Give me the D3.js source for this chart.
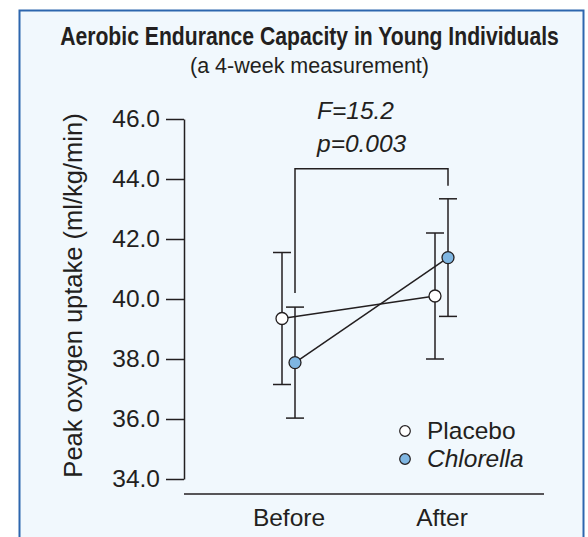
<!DOCTYPE html>
<html>
<head>
<meta charset="utf-8">
<script src="https://cdn.jsdelivr.net/npm/d3@7"></script>
<style>
  html, body { margin: 0; padding: 0; background: #fff; }
  svg { display: block; }
  text { font-family: "Liberation Sans", Arial, sans-serif; fill: #231f20; }
</style>
</head>
<body>
<svg width="588" height="537"></svg>
<script>
// chart values
const phases = ['Before', 'After'];
const groups = ['Placebo', 'Chlorella'];
const placeboMean = [39.35, 40.1];
const placeboErr = [2.2, 2.1];
const chlorellaMean = [37.88, 41.38];
const chlorellaErr = [1.85, 1.96];
const yTicks = [34, 36, 38, 40, 42, 44, 46];
const statLines = ['F=15.2', 'p=0.003'];

const ink = '#231f20';
const groupFill = { Placebo: '#ffffff', Chlorella: '#7fb6e2' };
const groupShift = { Placebo: -7, Chlorella: 6 };

const series = [
  { name: 'Placebo', mean: placeboMean, err: placeboErr },
  { name: 'Chlorella', mean: chlorellaMean, err: chlorellaErr }
];

const svg = d3.select('svg');

// panel
svg.append('rect')
  .attr('x', 19.5).attr('y', 10.5)
  .attr('width', 564).attr('height', 540)
  .attr('fill', '#f1f8fd')
  .attr('stroke', '#2d66ae')
  .attr('stroke-width', 2);

// title: no condensed font installed, so squeeze a bold one horizontally
const title = svg.append('text')
  .attr('text-anchor', 'middle')
  .style('font-weight', 'bold')
  .style('font-size', '26px')
  .text('Aerobic Endurance Capacity in Young Individuals');
const tw = title.node().getComputedTextLength();
title.attr('transform', `translate(309.5,45) scale(${Math.min(1, 499 / tw)},1)`);

svg.append('text')
  .attr('x', 309.5).attr('y', 73)
  .attr('text-anchor', 'middle')
  .style('font-size', '21.5px')
  .text('(a 4-week measurement)');

const y = d3.scaleLinear().domain([34, 46]).range([479, 119]);
const x = d3.scalePoint().domain(phases).range([289, 442]);

// y axis
const yAxis = d3.axisLeft(y)
  .tickValues(yTicks)
  .tickFormat(d3.format('.1f'))
  .tickSize(18)
  .tickSizeOuter(0)
  .tickPadding(6);

const gy = svg.append('g')
  .attr('transform', 'translate(184,0)')
  .call(yAxis);
gy.select('.domain').attr('stroke', ink).attr('stroke-width', 1.5);
gy.selectAll('.tick line').attr('stroke', ink).attr('stroke-width', 1.5);
gy.selectAll('.tick text')
  .attr('fill', ink)
  .style('font-family', '"Liberation Sans", Arial, sans-serif')
  .style('font-size', '24.5px');

svg.append('text')
  .attr('transform', 'translate(82,295.5) rotate(-90)')
  .attr('text-anchor', 'middle')
  .style('font-size', '25.5px')
  .text('Peak oxygen uptake (ml/kg/min)');

// x axis: a plain line with category labels
svg.append('line')
  .attr('x1', 184).attr('x2', 544)
  .attr('y1', 494).attr('y2', 494)
  .attr('stroke', ink).attr('stroke-width', 1.5);

svg.selectAll('.xlab')
  .data(phases)
  .enter()
  .append('text')
    .attr('class', 'xlab')
    .attr('x', (d) => x(d))
    .attr('y', 526)
    .attr('text-anchor', 'middle')
    .style('font-size', '24.5px')
    .text((d) => d);

// significance bracket between the Chlorella points
const chl = series[1];
const tops = phases.map((p, i) => y(chl.mean[i] + chl.err[i]));
const bracketTop = Math.min(...tops) - 30;
const bx = phases.map((p) => x(p) + groupShift.Chlorella);
svg.append('path')
  .attr('d', `M${bx[0]},${tops[0] - 14}V${bracketTop}H${bx[1]}V${tops[1] - 13}`)
  .attr('fill', 'none')
  .attr('stroke', ink)
  .attr('stroke-width', 1.5);

svg.selectAll('.stat')
  .data(statLines)
  .enter()
  .append('text')
    .attr('class', 'stat')
    .attr('x', 317)
    .attr('y', (d, i) => 119 + i * 33)
    .style('font-size', '24.5px')
    .style('font-style', 'italic')
    .text((d) => d);

// lines, error bars, points
const px = (s, i) => x(phases[i]) + groupShift[s.name];

series.forEach((s) => {
  svg.append('line')
    .attr('x1', px(s, 0)).attr('y1', y(s.mean[0]))
    .attr('x2', px(s, 1)).attr('y2', y(s.mean[1]))
    .attr('stroke', ink).attr('stroke-width', 1.5);
});

series.forEach((s) => {
  const g = svg.append('g');
  phases.forEach((p, i) => {
    const cx = px(s, i);
    const hi = y(s.mean[i] + s.err[i]);
    const lo = y(s.mean[i] - s.err[i]);
    g.append('line')
      .attr('x1', cx).attr('x2', cx).attr('y1', hi).attr('y2', lo)
      .attr('stroke', ink).attr('stroke-width', 1.5);
    [hi, lo].forEach((yy) => {
      g.append('line')
        .attr('x1', cx - 9).attr('x2', cx + 9).attr('y1', yy).attr('y2', yy)
        .attr('stroke', ink).attr('stroke-width', 1.5);
    });
  });
});

series.forEach((s) => {
  svg.selectAll(null)
    .data(s.mean)
    .enter()
    .append('circle')
      .attr('cx', (d, i) => px(s, i))
      .attr('cy', (d) => y(d))
      .attr('r', 6)
      .attr('fill', groupFill[s.name])
      .attr('stroke', ink)
      .attr('stroke-width', 1.3);
});

// legend
const legend = svg.selectAll('.legend')
  .data(groups)
  .enter()
  .append('g')
    .attr('class', 'legend')
    .attr('transform', (d, i) => `translate(405,${431 + i * 28})`);

legend.append('circle')
  .attr('r', 5.3)
  .attr('fill', (d) => groupFill[d])
  .attr('stroke', ink)
  .attr('stroke-width', 1.2);

legend.append('text')
  .attr('x', 22)
  .attr('y', 8)
  .style('font-size', '24.5px')
  .style('font-style', (d) => d === 'Chlorella' ? 'italic' : 'normal')
  .text((d) => d);
</script>
</body>
</html>
